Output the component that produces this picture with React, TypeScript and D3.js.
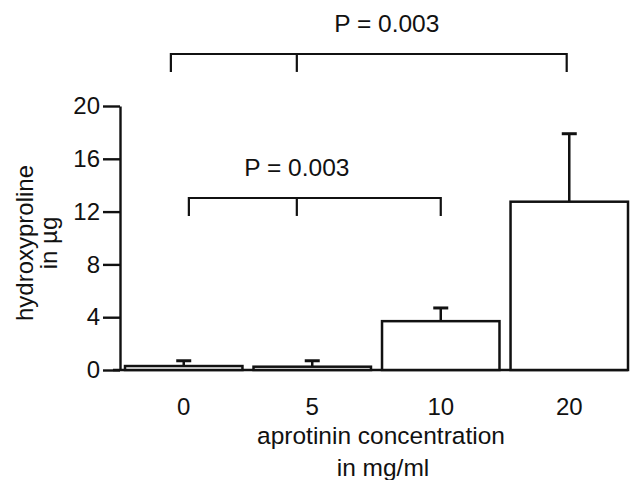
import React, { useRef, useEffect } from "react";
import * as d3 from "d3";

// aprotinin concentration (mg/ml)
const categories = ["0", "5", "10", "20"];
// hydroxyproline in µg (mean) and upper error
const means = [0.3, 0.25, 3.7, 12.75];
const errUpper = [0.7, 0.7, 4.7, 17.9];
const yTicks = [0, 4, 8, 12, 16, 20];

// significance brackets, x in category-index units, y in data units
const bracketLeft = [-0.1, 0.04];
const bracketMid = [0.88, 0.88];
const bracketRight = [2.98, 2.0];
const bracketLevel = [23.94, 13.03];
const bracketFoot = [22.58, 11.67];
const pLabels = ["P = 0.003", "P = 0.003"];
const pLabelX = [1.58, 0.88];
const pLabelY = [25.6, 14.7];

const W = 632;
const H = 480;
const FONT = "'Liberation Sans', Arial, Helvetica, sans-serif";

const App = () => {
  const yAxisRef = useRef<SVGGElement>(null);

  const x = d3
    .scaleBand()
    .domain(categories)
    .range([125, 628])
    .paddingInner(0.086)
    .paddingOuter(0);

  const y = d3.scaleLinear().domain([0, 20]).range([370, 106]);

  const bw = x.bandwidth();
  // category index -> bar centre
  const xi = d3
    .scaleLinear()
    .domain([0, categories.length - 1])
    .range([
      (x(categories[0]) as number) + bw / 2,
      (x(categories[categories.length - 1]) as number) + bw / 2,
    ]);

  useEffect(() => {
    const g = d3.select(yAxisRef.current);
    const axis = d3
      .axisLeft(y)
      .tickValues(yTicks)
      .tickSize(17)
      .tickSizeOuter(0)
      .tickPadding(3)
      .tickFormat(d3.format("d"));
    g.call(axis as any);
    g.attr("font-family", FONT).attr("font-size", 24);
    g.selectAll("path, line").attr("stroke", "#111").attr("stroke-width", 2.4);
    g.selectAll("text").attr("fill", "#111");
  }, []);

  return (
    <svg
      width={W}
      height={H}
      style={{ position: "absolute", left: 0, top: 0, background: "#fff" }}
      fontFamily={FONT}
    >
      <rect width={W} height={H} fill="#fff" />

      {/* y axis */}
      <g ref={yAxisRef} transform="translate(120,0)" />

      {/* baseline */}
      <line x1={113} x2={628} y1={y(0)} y2={y(0)} stroke="#111" strokeWidth={2.5} />

      {/* error bars */}
      {categories.map((c, i) => {
        const cx = (x(c) as number) + bw / 2;
        return (
          <g key={"e" + c} stroke="#111" strokeWidth={2.5}>
            <line x1={cx} x2={cx} y1={y(means[i])} y2={y(errUpper[i])} />
            <line x1={cx - 7.5} x2={cx + 7.5} y1={y(errUpper[i])} y2={y(errUpper[i])} strokeWidth={3} />
          </g>
        );
      })}

      {/* bars */}
      {categories.map((c, i) => (
        <rect
          key={"b" + c}
          x={x(c)}
          y={y(means[i])}
          width={bw}
          height={y(0) - y(means[i])}
          fill="#fff"
          stroke="#111"
          strokeWidth={2.5}
        />
      ))}

      {/* x labels */}
      {categories.map((c) => (
        <text
          key={"t" + c}
          x={(x(c) as number) + bw / 2}
          y={415}
          textAnchor="middle"
          fontSize={24}
          fill="#111"
        >
          {c}
        </text>
      ))}
      <text x={381} y={444} textAnchor="middle" fontSize={24.5} fill="#111">
        aprotinin concentration
      </text>
      <text x={383} y={476} textAnchor="middle" fontSize={24.5} fill="#111">
        in mg/ml
      </text>

      {/* y title */}
      <g transform="translate(0,243) rotate(-90)">
        <text x={0} y={33} textAnchor="middle" fontSize={24} fill="#111">
          hydroxyproline
        </text>
        <text x={0} y={57} textAnchor="middle" fontSize={24} fill="#111">
          in µg
        </text>
      </g>

      {/* significance brackets */}
      {bracketLevel.map((lv, i) => (
        <g key={"br" + i} fill="none" stroke="#111" strokeWidth={2.2}>
          <path
            d={`M${xi(bracketLeft[i])},${y(bracketFoot[i])}V${y(lv)}H${xi(bracketRight[i])}V${y(bracketFoot[i])}`}
          />
          <line
            x1={xi(bracketMid[i])}
            x2={xi(bracketMid[i])}
            y1={y(lv)}
            y2={y(bracketFoot[i])}
          />
        </g>
      ))}
      {pLabels.map((p, i) => (
        <text
          key={"p" + i}
          x={xi(pLabelX[i])}
          y={y(pLabelY[i])}
          textAnchor="middle"
          fontSize={24.5}
          fill="#111"
        >
          {p}
        </text>
      ))}
    </svg>
  );
};

export default App;
